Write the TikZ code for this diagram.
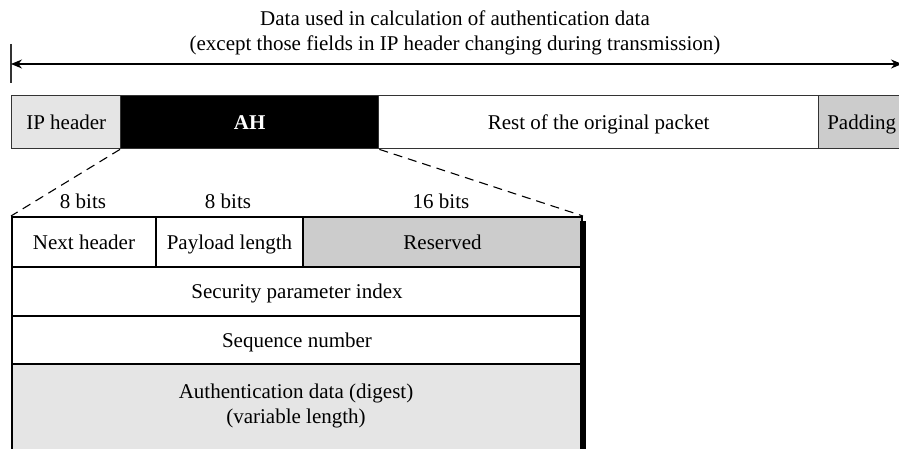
\documentclass[tikz,border=0pt]{standalone}
\usepackage{fontspec}
\setmainfont{Liberation Serif}
\usetikzlibrary{arrows.meta}
\definecolor{lightg}{gray}{0.90}
\definecolor{midg}{gray}{0.80}
\definecolor{edgeg}{gray}{0.2}
\begin{document}
\begin{tikzpicture}[x=1pt,y=-1pt,
  every node/.style={font=\fontsize{21}{25}\selectfont, inner sep=0pt},
  fixbase/.style={text height=17pt, text depth=3pt},
  topbox/.style={fixbase, draw=edgeg, line width=1.4pt, anchor=north west, minimum height=53pt},
  fieldbox/.style={fixbase, draw=black, line width=2pt, anchor=north west},
  zoomline/.style={dashed, dash pattern=on 9pt off 6pt, line width=1.1pt}]
\useasboundingbox (0,0) rectangle (899,449);
\clip (0,0) rectangle (899,449);
% title
\node (title) [align=center] at (455,33) {Data used in calculation of authentication data\\(except those fields in IP header changing during transmission)};
% range arrow
\coordinate (tickT) at (11,44);
\coordinate (tickB) at (11,83);
\coordinate (arL) at (11,64);
\coordinate (arR) at (902,64);
\draw[line width=1.4pt, edgeg] (tickT) -- (tickB);
\draw[line width=1.1pt, {Stealth[length=11pt,width=9pt]}-{Stealth[length=11pt,width=9pt]}] (arL) -- (arR);
% packet
\node (ip) [topbox, fill=lightg, minimum width=109pt] at (11,95) {IP header};
\node (ah) [topbox, fill=black, minimum width=258pt, text=white, font=\fontsize{21}{25}\selectfont\bfseries] at (120,95) {AH};
\node (rest) [topbox, fill=white, minimum width=440pt] at (378,95) {Rest of the original packet};
\node (pad) [topbox, fill=midg, minimum width=92pt] at (818,95) {\hspace*{-6pt}Padding};
% AH fields
\node (nh) [fieldbox, minimum width=144pt, minimum height=50pt] at (11,216) {Next header};
\node (pl) [fieldbox, minimum width=147pt, minimum height=50pt] at (155,216) {Payload length};
\node (res) [fieldbox, fill=midg, minimum width=279pt, minimum height=50pt] at (302,216) {Reserved};
\node (spi) [fieldbox, minimum width=570pt, minimum height=49pt] at (11,266) {Security parameter index};
\node (seq) [fieldbox, minimum width=570pt, minimum height=48pt] at (11,315) {Sequence number};
\node (auth) [draw=black, line width=2pt, anchor=north west, fill=lightg, minimum width=570pt, minimum height=92pt] at (11,363) {};
\node (authtxt) [align=center] at (296,406) {Authentication data (digest)\\(variable length)};
% shadow bar
\fill[black] (580,221) rectangle (586,455);
% bit widths
\node (b1) [fixbase] at (83,201) {8 bits};
\node (b2) [fixbase] at (228,201) {8 bits};
\node (b3) [fixbase] at (441,201) {16 bits};
% zoom lines
\draw[zoomline] (ah.south west) -- (nh.north west);
\draw[zoomline] (ah.south east) -- (res.north east);
\end{tikzpicture}
\end{document}
